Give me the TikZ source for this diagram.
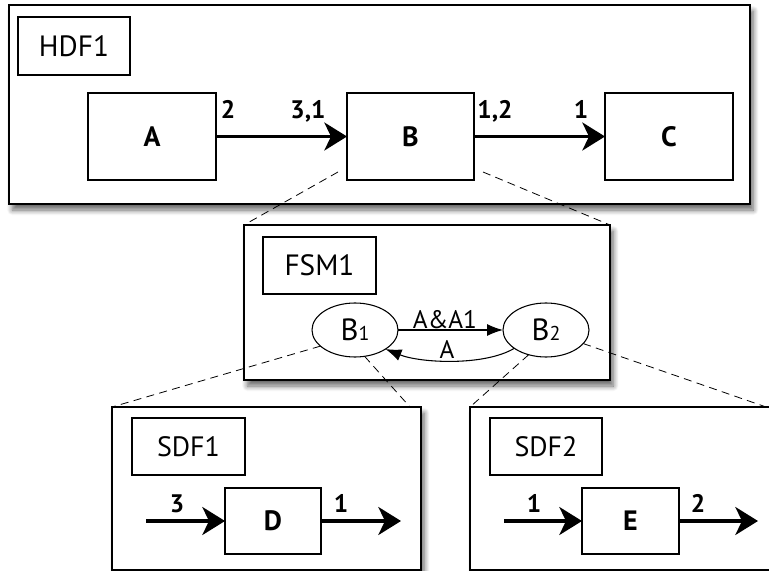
\documentclass[tikz,border=0pt]{standalone}
\usepackage{fontspec}
\setmainfont{PT Sans}
\usetikzlibrary{arrows.meta,shapes.geometric,shadows.blur}
\begin{document}
\begin{tikzpicture}[x=0.75pt,y=-0.75pt,
  every node/.style={inner sep=0pt,outer sep=0pt},
  frame/.style={draw,line width=0.9pt,fill=white,
    blur shadow={shadow xshift=2.5pt,shadow yshift=-4.5pt,shadow blur steps=8,shadow blur radius=4pt,shadow opacity=60}},
  lab/.style={draw,line width=0.8pt,fill=white,font=\fontsize{22}{24}\selectfont},
  sdflab/.style={draw,line width=0.8pt,fill=white,font=\fontsize{21}{24}\selectfont},
  blk/.style={draw,line width=0.8pt,fill=white,font=\bfseries\fontsize{21}{24}\selectfont},
  state/.style={draw,ellipse,line width=0.8pt,fill=white,minimum width=64.5pt,minimum height=40.5pt,font=\fontsize{23}{24}\selectfont},
  num/.style={anchor=base,font=\bfseries\fontsize{19}{20}\selectfont},
  tlab/.style={anchor=base,font=\fontsize{19}{20}\selectfont},
  bigarrow/.style={line width=2.4pt,-{Stealth[length=17pt,width=21pt,inset=5pt]}},
  thinarrow/.style={line width=0.8pt,-{Latex[length=12pt,width=9pt]}},
  zoomline/.style={line width=0.6pt,dash pattern=on 6pt off 4pt}]
\useasboundingbox (0,0) rectangle (769,571);
\begin{scope}
\clip (0,0) rectangle (769,571);
% HDF1
\node[frame,minimum width=555.75pt,minimum height=149.25pt] (hdf) at (379.5,104.5) {};
\node[lab,minimum width=84pt,minimum height=43.5pt] (hdflab) at (74,46) {HDF1};
\node[blk,minimum width=96pt,minimum height=65.25pt] (A) at (152,136.5) {A};
\node[blk,minimum width=95.25pt,minimum height=65.25pt] (B) at (410.5,136.5) {B};
\node[blk,minimum width=96pt,minimum height=65.25pt] (C) at (669,136.5) {C};
\draw[bigarrow] (A) -- (B);
\draw[bigarrow] (B) -- (C);
\node[num] (l1) at (228,118) {2};
\node[num] (l2) at (308,118) {3,1};
\node[num] (l3) at (495,118) {1,2};
\node[num] (l4) at (581,118) {1};
% FSM1
\node[frame,minimum width=274.5pt,minimum height=116.25pt] (fsm) at (427,302.5) {};
\node[lab,minimum width=84.75pt,minimum height=42.75pt] (fsmlab) at (319.5,265.5) {FSM1};
\node[state] (b1) at (355,330) {B{\fontsize{15}{15}\selectfont 1}};
\node[state] (b2) at (546,330) {B{\fontsize{15}{15}\selectfont 2}};
\draw[thinarrow] (b1.east) -- (b2.west);
\draw[thinarrow] (b2.210) .. controls +(-30,18) and +(35,14) .. (b1.-32);
\node[tlab] (t1) at (445,328) {A\&A1};
\node[tlab] (t2) at (447,358) {A};
% SDF1
\node[frame,minimum width=231.75pt,minimum height=122.25pt] (sdf1) at (266.5,488.5) {};
\node[sdflab,minimum width=84.75pt,minimum height=42.75pt] (sdf1lab) at (188.5,446.5) {SDF1};
\node[blk,minimum width=72pt,minimum height=49.5pt] (D) at (273,521) {D};
\coordinate (din) at (146,521);
\coordinate (dout) at (401,521);
\draw[bigarrow] (din) -- (D);
\draw[bigarrow] (D) -- (dout);
\node[num] (l5) at (177,512) {3};
\node[num] (l6) at (341,512) {1};
% SDF2
\node[frame,minimum width=228.75pt,minimum height=122.25pt] (sdf2) at (622.5,488.5) {};
\node[sdflab,minimum width=84pt,minimum height=42.75pt] (sdf2lab) at (546,446.5) {SDF2};
\node[blk,minimum width=72.75pt,minimum height=49.5pt] (E) at (630.5,521) {E};
\coordinate (ein) at (504,521);
\coordinate (eout) at (758,521);
\draw[bigarrow] (ein) -- (E);
\draw[bigarrow] (E) -- (eout);
\node[num] (l7) at (534,512) {1};
\node[num] (l8) at (698,512) {2};
% zoom lines
\coordinate (bz1) at (338,172);
\coordinate (bz2) at (483,172);
\coordinate (s1ne) at (410,407);
\coordinate (s2ne) at (769,408);
\draw[zoomline] (bz1) -- (fsm.north west);
\draw[zoomline] (bz2) -- (fsm.north east);
\draw[zoomline] (b1.205) -- (sdf1.north west);
\draw[zoomline] (b1.-70) -- (s1ne);
\draw[zoomline] (b2.235) -- (sdf2.north west);
\draw[zoomline] (b2.-20) -- (s2ne);
\end{scope}
\end{tikzpicture}
\end{document}
